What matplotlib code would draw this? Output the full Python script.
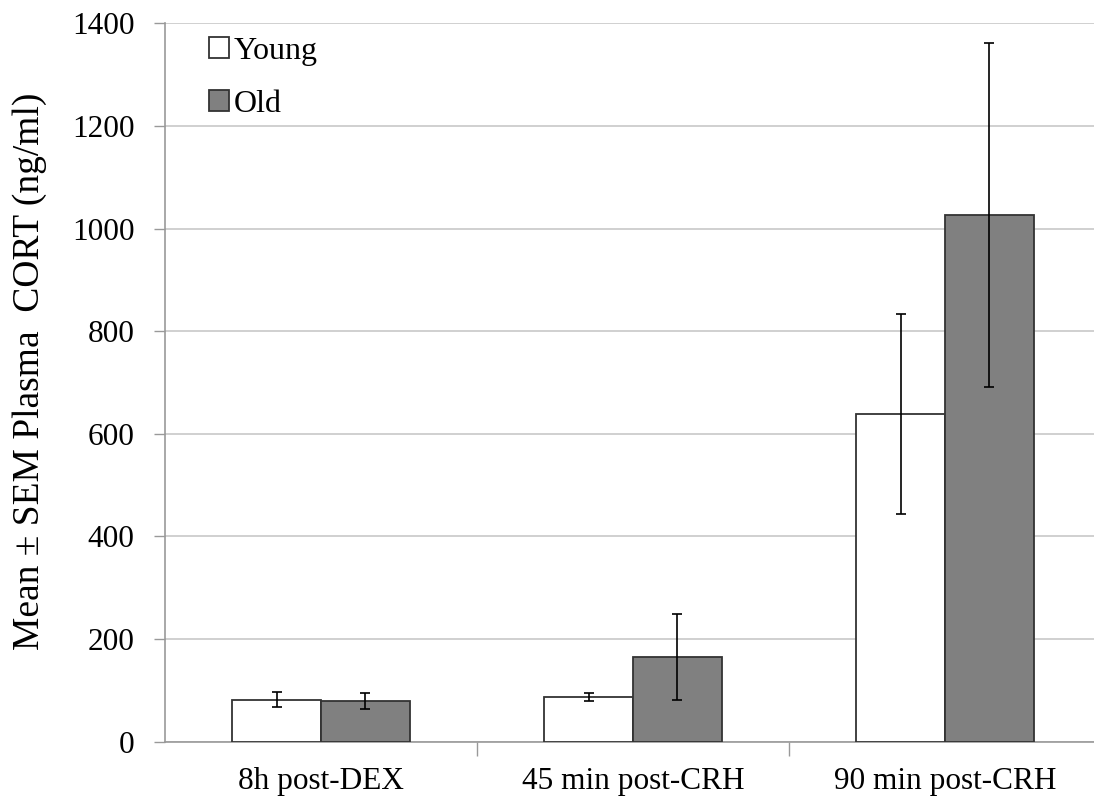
import matplotlib
matplotlib.use("Agg")
import matplotlib.pyplot as plt
import numpy as np

categories = ["8h post-DEX", "45 min post-CRH", "90 min post-CRH"]
young_mean = [82, 87, 638]
young_sem = [14, 8, 195]
old_mean = [79, 165, 1026]
old_sem = [16, 83, 335]
yticks = [0, 200, 400, 600, 800, 1000, 1200, 1400]

plt.rcParams['font.family'] = ['Liberation Serif', 'DejaVu Serif']

W, H = 1094, 800
fig = plt.figure(figsize=(W/100, H/100), dpi=100)
x0, x1 = 165, 1101
y0, y1 = 741.7, 23.3
ax = fig.add_axes([x0/W, (H-y0)/H, (x1-x0)/W, (y0-y1)/H])

x = np.arange(len(categories))
bw = 0.285
err_kw = dict(ecolor='black', elinewidth=1.2, capsize=3.5, capthick=1.2)
ax.bar(x - bw/2, young_mean, bw, yerr=young_sem, color='white', edgecolor='#333333',
       linewidth=1.3, label='Young', error_kw=err_kw, zorder=3)
ax.bar(x + bw/2, old_mean, bw, yerr=old_sem, color='#808080', edgecolor='#333333',
       linewidth=1.3, label='Old', error_kw=err_kw, zorder=3)

ax.set_xlim(-0.5, len(categories) - 0.5)
ax.set_ylim(0, 1400)
ax.set_yticks(yticks)
ax.yaxis.grid(True, color='#c8c8c8', linewidth=1.2, zorder=0)
ax.set_axisbelow(True)

ax.set_xticks(x)
ax.set_xticklabels(categories, fontsize=22.5)
ax.set_xticks(np.arange(0.5, len(categories) - 0.5, 1), minor=True)
ax.tick_params(axis='x', which='major', length=0, pad=18)
ax.tick_params(axis='x', which='minor', length=10, color='#999999', width=1)
ax.tick_params(axis='y', length=8, color='#999999', width=1, pad=14, labelsize=22.5)

for s in ['top', 'right']:
    ax.spines[s].set_visible(False)
for s in ['left', 'bottom']:
    ax.spines[s].set_color('#999999')
    ax.spines[s].set_linewidth(1.2)

ax.set_ylabel('Mean \u00b1 SEM Plasma  CORT (ng/ml)', fontsize=27)
ax.yaxis.set_label_coords((47 - x0) / (x1 - x0), 0.515)

leg = ax.legend(loc='upper left', bbox_to_anchor=(0.027, 1.008), frameon=False,
                fontsize=23, handlelength=0.6, handleheight=0.6, handletextpad=0.15,
                labelspacing=0.75, borderaxespad=0.2)

fig.savefig('out.png', dpi=100)
